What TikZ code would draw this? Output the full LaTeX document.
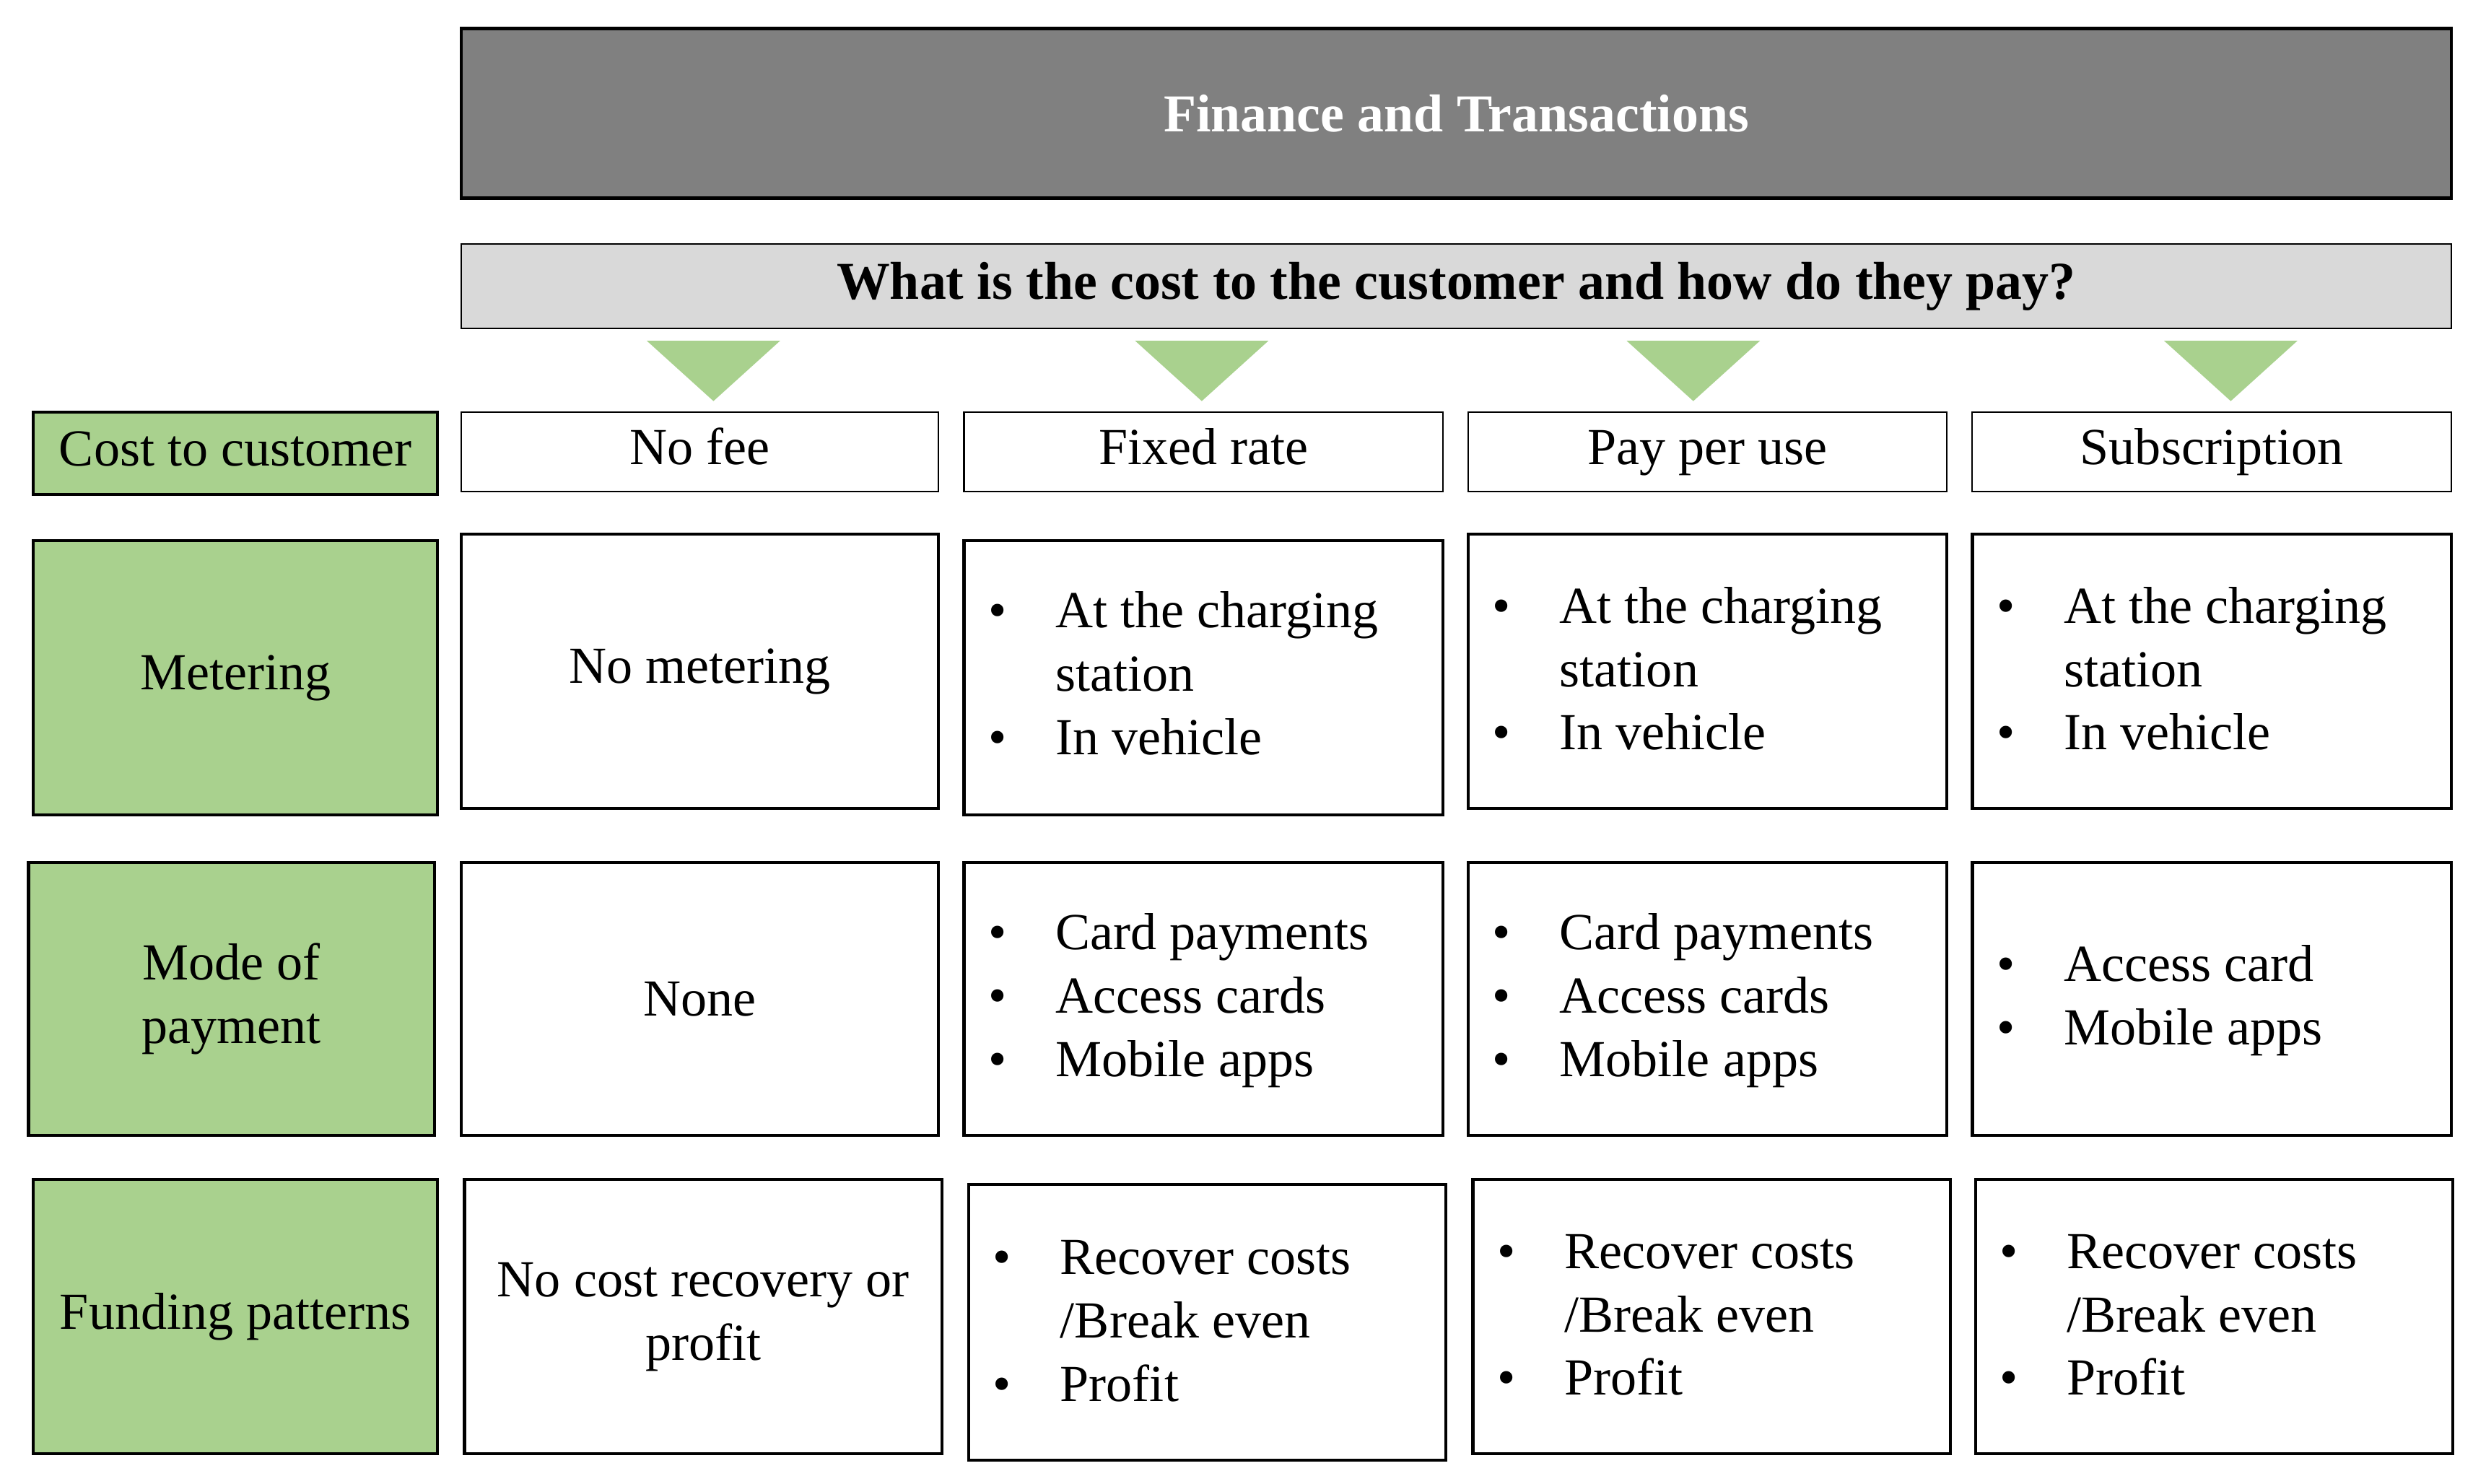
\documentclass[tikz,border=0pt]{standalone}
\usepackage{fontspec}
\setmainfont{Liberation Serif}
\definecolor{gbox}{HTML}{A9D18E}
\definecolor{dgray}{HTML}{808080}
\definecolor{lgray}{HTML}{D9D9D9}
\newcommand{\bl}[1]{\begin{tabular}{@{}l@{\hspace{0.68cm}}l@{}}#1\end{tabular}}
\newcommand{\bu}{\textbullet}
\begin{document}
\begin{tikzpicture}[x=0.02196cm,y=-0.02196cm,
  box/.style={draw=black,line width=1.2pt},
  txt/.style={font=\fontsize{20.5}{25}\selectfont,align=center},
  hdr/.style={txt,text height=14pt,text depth=4pt},
  lst/.style={font=\fontsize{20.5}{25}\selectfont,anchor=west,inner sep=0pt},
  tri/.style={fill=gbox,draw=none}]
\useasboundingbox (0,0) rectangle (1568,936);
\draw[box,fill=dgray] (291,18) rectangle (1546,125) node[midway,text=white,font=\fontsize{21}{24}\selectfont\bfseries] (title) {Finance and Transactions};
\draw[box,line width=0.6pt,fill=lgray] (291,154) rectangle (1546,207) node[midway,font=\fontsize{21}{24}\selectfont\bfseries] (q) {What is the cost to the customer and how do they pay?};
\foreach \c/\n in {450/t1,758/t2,1068/t3,1407/t4}{
  \fill[tri] (\c-42,215) -- (\c+42,215) -- (\c,253) -- cycle;}
% left labels
\draw[box,fill=gbox] (21,260) rectangle (276,312) node[midway,hdr] (l1) {Cost to customer};
\draw[box,fill=gbox] (21,341) rectangle (276,514) node[midway,txt] (l2) {Metering};
\draw[box,fill=gbox] (18,544) rectangle (274,716) node[midway,txt] (l3) {Mode of\\payment};
\draw[box,fill=gbox] (21,744) rectangle (276,917) node[midway,txt] (l4) {Funding patterns};
% row 1
\draw[box,line width=0.6pt] (291,260) rectangle (592,310) node[midway,hdr] (a1) {No fee};
\draw[box,line width=0.6pt] (608,260) rectangle (910,310) node[midway,hdr] (b1) {Fixed rate};
\draw[box,line width=0.6pt] (926,260) rectangle (1228,310) node[midway,hdr] (c1) {Pay per use};
\draw[box,line width=0.6pt] (1244,260) rectangle (1546,310) node[midway,hdr] (d1) {Subscription};
% row 2
\draw[box] (291,337) rectangle (592,510) node[midway,txt] (a2) {No metering};
\draw[box] (608,341) rectangle (910,514);
\node[lst] (b2) at (623,428) {\bl{\bu & At the charging\\ & station\\ \bu & In vehicle}};
\draw[box] (926,337) rectangle (1228,510);
\node[lst] (c2) at (941,425) {\bl{\bu & At the charging\\ & station\\ \bu & In vehicle}};
\draw[box] (1244,337) rectangle (1546,510);
\node[lst] (d2) at (1259,425) {\bl{\bu & At the charging\\ & station\\ \bu & In vehicle}};
% row 3
\draw[box] (291,544) rectangle (592,716) node[midway,txt] (a3) {None};
\draw[box] (608,544) rectangle (910,716);
\node[lst] (b3) at (623,631) {\bl{\bu & Card payments\\ \bu & Access cards\\ \bu & Mobile apps}};
\draw[box] (926,544) rectangle (1228,716);
\node[lst] (c3) at (941,631) {\bl{\bu & Card payments\\ \bu & Access cards\\ \bu & Mobile apps}};
\draw[box] (1244,544) rectangle (1546,716);
\node[lst] (d3) at (1259,631) {\bl{\bu & Access card\\ \bu & Mobile apps}};
% row 4
\draw[box] (293,744) rectangle (594,917) node[midway,txt] (a4) {No cost recovery or\\profit};
\draw[box] (611,747) rectangle (912,921);
\node[lst] (b4) at (626,836) {\bl{\bu & Recover costs\\ & /Break even\\ \bu & Profit}};
\draw[box] (929,744) rectangle (1230,917);
\node[lst] (c4) at (944,832) {\bl{\bu & Recover costs\\ & /Break even\\ \bu & Profit}};
\draw[box] (1246,744) rectangle (1547,917);
\node[lst] (d4) at (1261,832) {\bl{\bu & Recover costs\\ & /Break even\\ \bu & Profit}};
\end{tikzpicture}
\end{document}
